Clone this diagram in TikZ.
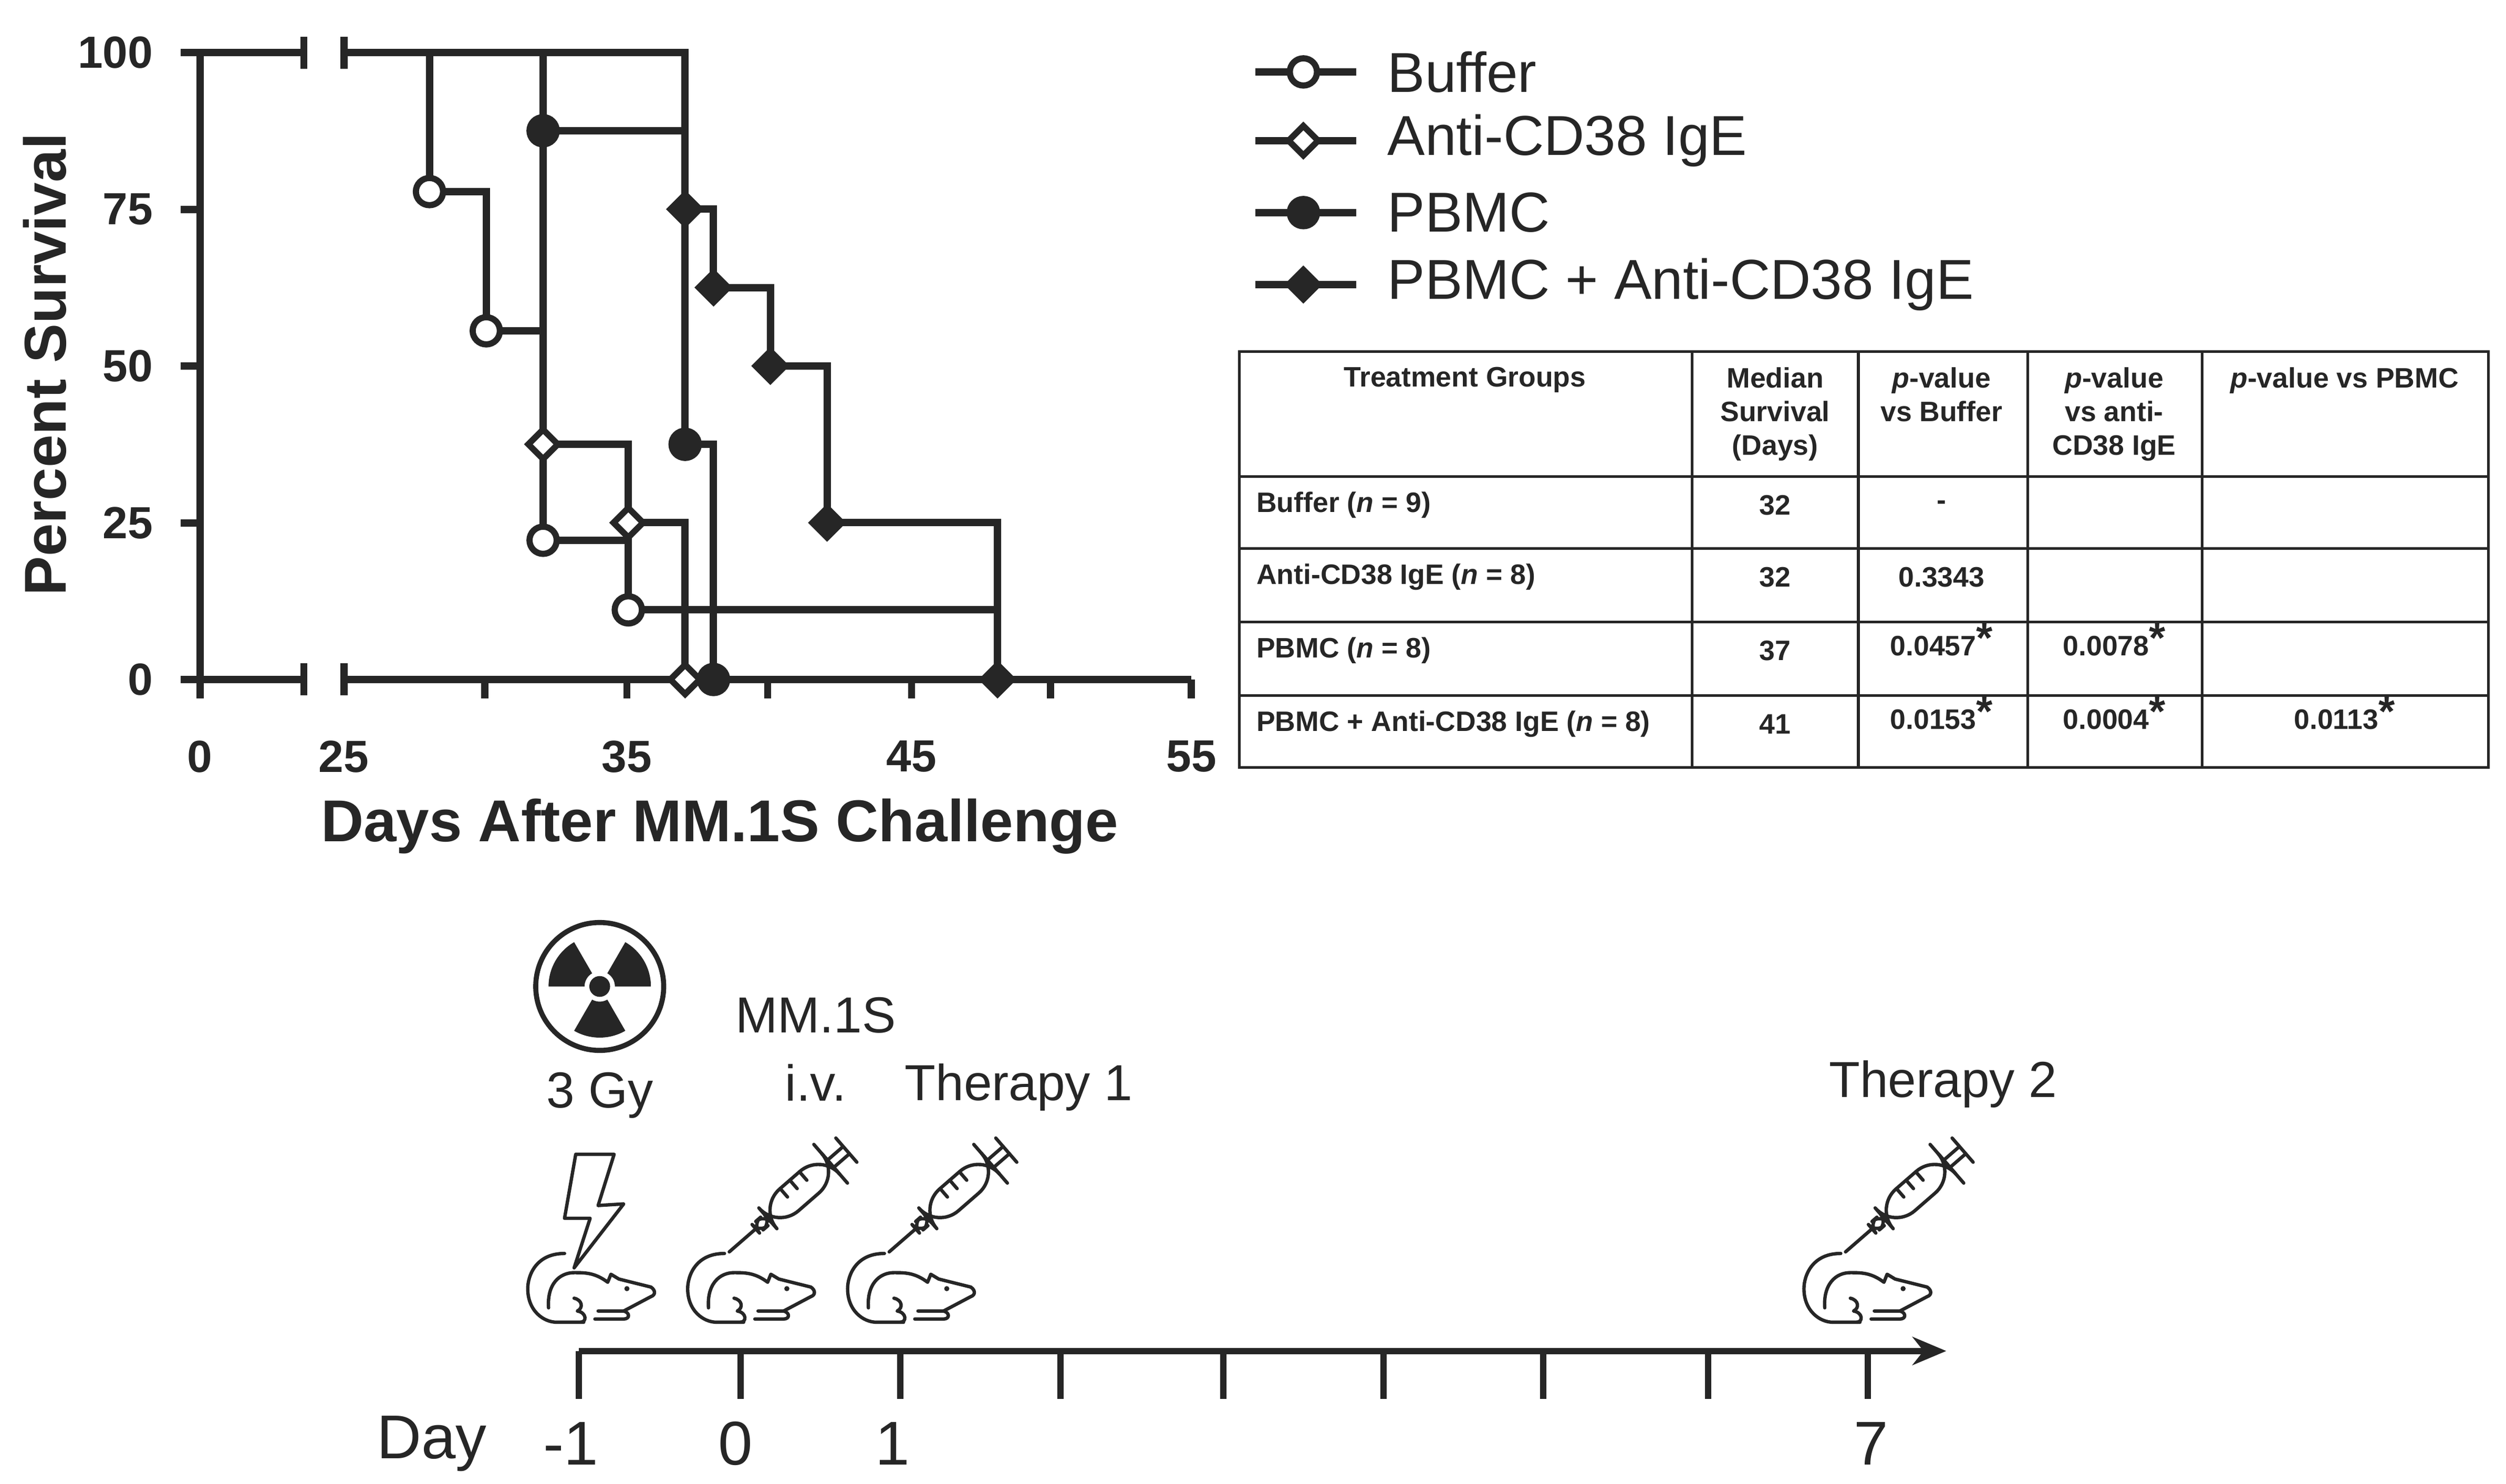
\documentclass[tikz,border=0pt]{standalone}
\usepackage{fontspec}
\setmainfont{Liberation Sans}
\usepackage{tikz}
\usetikzlibrary{shapes.geometric,arrows.meta,positioning}
\colorlet{ink}{black!85}

\tikzset{
  curve/.style={draw=ink, line width=1.3pt},
  ocirc/.style={circle, draw=ink, line width=1.1pt, fill=white, minimum size=0.17cm, inner sep=0pt},
  fcirc/.style={circle, draw=ink, line width=1.1pt, fill=ink, minimum size=0.17cm, inner sep=0pt},
  odiam/.style={diamond, draw=ink, line width=1.1pt, fill=white, minimum size=0.2cm, inner sep=0pt},
  fdiam/.style={diamond, draw=ink, line width=1.1pt, fill=ink, minimum size=0.2cm, inner sep=0pt},
  tick/.style={font=\bfseries\fontsize{8}{9}\selectfont, text=ink},
  tab/.style={font=\bfseries\fontsize{5}{6}\selectfont, text=ink, align=center, inner sep=0pt},
  leg/.style={font=\fontsize{10}{12}\selectfont, text=ink, anchor=west, inner sep=0pt},
  lab/.style={font=\fontsize{9}{11}\selectfont, text=ink, align=center, inner sep=0pt},
  day/.style={font=\fontsize{11}{13}\selectfont, text=ink, inner sep=0pt},
  icon/.style={draw=ink, line width=0.6pt, line cap=round, line join=round},
  mouse/.pic={
    \draw[icon] (23,44) .. controls (5,44) and (0,30) .. (0,22) .. controls (0,8) and (10,1) .. (18,1) -- (35,1);
    \draw[icon] (13,10) .. controls (12,25) and (20,32) .. (29,32) .. controls (36,32) and (42,32) .. (50,26)
      -- (52,31) -- (57,28) -- (77,23) .. controls (80,21) and (80,18) .. (77,17) -- (60,8) -- (44,8);
    \draw[icon] (42,3) -- (60,3) .. controls (64,3) and (64,7) .. (60,8);
    \draw[icon] (29,16) .. controls (34,15) and (35,10) .. (31,8) .. controls (37,7) and (37,1) .. (33,1);
    \fill[ink] (62,22) circle (1.6);
  },
  syringe/.pic={
    \begin{scope}[rotate=41]
    \draw[icon] (0,0) -- (22,0);
    \draw[icon, rounded corners=2] (22,-3.5) rectangle (32,3.5);
    \draw[icon, rounded corners=5] (32,-9) rectangle (84,9);
    \foreach \t in {50,58,66} \draw[icon] (\t,9) -- (\t,2);
    \draw[icon] (84,-16) -- (84,16);
    \draw[icon] (84,-3) -- (97,-3) (84,3) -- (97,3);
    \draw[icon] (97,-10) -- (97,10);
    \end{scope}
  }
}

\begin{document}
\begin{tikzpicture}[x=0.01cm, y=0.01cm]
\useasboundingbox (0,0) rectangle (1567,928);

% survival plot axes
\draw[curve] (125,503) -- (190,503) (215,503) -- (745,503);
\draw[curve] (125,503) -- (125,895);
\foreach \x in {190,215} \draw[curve] (\x,493) -- (\x,513);
\foreach \x in {125,303,392,480,570,657,745} \draw[curve] (\x,503) -- (\x,491);
\foreach \y/\p in {503/0,601/25,699/50,797/75,895/100} {
  \draw[curve] (113,\y) -- (125,\y);
  \node[tick, anchor=east] (yt\p) at (108,\y) {\p};
}
\foreach \x/\d in {125/0,215/25,392/35,570/45,745/55}
  \node[tick, anchor=north] (xt\d) at (\x,477) {\d};
\node[font=\bfseries\fontsize{10.5}{12}\selectfont, text=ink] (xlab) at (450,411) {Days After MM.1S Challenge};
\node[font=\bfseries\fontsize{10.5}{12}\selectfont, text=ink, rotate=90] (ylab) at (28,700) {Percent Survival};

% 100% start with break
\draw[curve] (125,895) -- (190,895);
\foreach \x in {190,215} \draw[curve] (\x,885) -- (\x,905);

\begin{scope}[shift={(-228.75,503)}, x=0.1775cm, y=0.0392cm]
  \draw[curve] (25,100) -- (28,100) -- (28,77.8) -- (30,77.8) -- (30,55.6) -- (32,55.6) -- (32,22.2) -- (35,22.2) -- (35,11.1) -- (48,11.1) -- (48,0);
  \draw[curve] (25,100) -- (32,100) -- (32,37.5) -- (35,37.5) -- (35,25) -- (37,25) -- (37,0);
  \draw[curve] (25,100) -- (32,100) -- (32,87.5) -- (37,87.5) -- (37,37.5) -- (38,37.5) -- (38,0);
  \draw[curve] (25,100) -- (37,100) -- (37,75) -- (38,75) -- (38,62.5) -- (40,62.5) -- (40,50) -- (42,50) -- (42,25) -- (48,25) -- (48,0);
  \foreach \d/\p [count=\i] in {28/77.8,30/55.6,32/22.2,35/11.1} \node[ocirc] (b\i) at (\d,\p) {};
  \foreach \d/\p [count=\i] in {32/37.5,35/25,37/0} \node[odiam] (e\i) at (\d,\p) {};
  \foreach \d/\p [count=\i] in {32/87.5,37/37.5,38/0} \node[fcirc] (m\i) at (\d,\p) {};
  \foreach \d/\p [count=\i] in {37/75,38/62.5,40/50,42/25,48/0} \node[fdiam] (c\i) at (\d,\p) {};
\end{scope}

% legend
\foreach \y/\s/\t [count=\i] in {883/ocirc/Buffer,840/odiam/Anti-CD38 IgE,795/fcirc/PBMC,750/fdiam/PBMC + Anti-CD38 IgE} {
  \draw[curve] (785,\y) -- (848,\y);
  \node[\s] (lm\i) at (815,\y) {};
  \node[leg] (lt\i) at (867,\y) {\t};
}

% table
\draw[ink, line width=0.5pt] (775,448) rectangle (1556,708);
\foreach \y in {630,585,539,493} \draw[ink, line width=0.5pt] (775,\y) -- (1556,\y);
\foreach \x in {1058,1162,1268,1377} \draw[ink, line width=0.5pt] (\x,448) -- (\x,708);
\node[tab, anchor=north] (h1) at (916,699) {Treatment Groups};
\node[tab, anchor=north] (h2) at (1110,699) {Median\\Survival\\(Days)};
\node[tab, anchor=north] (h3) at (1214,699) {\textit{p}-value\\vs Buffer};
\node[tab, anchor=north] (h4) at (1322,699) {\textit{p}-value\\vs anti-\\CD38 IgE};
\node[tab, anchor=north] (h5) at (1466,699) {\textit{p}-value vs PBMC};
\newcommand{\sig}{\raisebox{0.2ex}{\fontsize{7.5}{7.5}\selectfont *}}
\foreach \y/\g/\m [count=\i] in {612/Buffer (\textit{n} = 9)/32,567/Anti-CD38 IgE (\textit{n} = 8)/32,521/PBMC (\textit{n} = 8)/37,475/PBMC + Anti-CD38 IgE (\textit{n} = 8)/41} {
  \node[tab, anchor=west] (g\i) at (785,\y) {\g};
  \node[tab] (md\i) at (1110,\y) {\m};
}
\node[tab] (pb1) at (1214,612) {-};
\node[tab] (pb2) at (1214,567) {0.3343};
\node[tab, anchor=base] (pb3) at (1214,518) {0.0457\sig};
\node[tab, anchor=base] (pb4) at (1214,472) {0.0153\sig};
\node[tab, anchor=base] (pe3) at (1322,518) {0.0078\sig};
\node[tab, anchor=base] (pe4) at (1322,472) {0.0004\sig};
\node[tab, anchor=base] (pm4) at (1466,472) {0.0113\sig};

% timeline
\draw[ink, line width=1.1pt, -{Stealth[length=6pt,width=5pt]}] (362,83) -- (1217,83);
\foreach \x in {362,463,563,663,765,865,965,1068,1168} \draw[ink, line width=1.1pt] (\x,83) -- (\x,53);
\node[day] (dlab) at (270,25) {Day};
\foreach \x/\d [count=\i] in {357/-1,460/0,558/1,1170/7} \node[day] (dd\i) at (\x,25) {\d};

% radiation symbol
\draw[ink, line width=0.9pt] (375,311) circle (40);
\fill[ink] (375,311) circle (6.5);
\foreach \a in {30,150,270} \fill[ink] ([shift={(\a-30:9.5)}]375,311) arc (\a-30:\a+30:9.5) -- ([shift={(\a+30:32)}]375,311) arc (\a+30:\a-30:32) -- cycle;
\node[lab] (gy) at (375,243) {3 Gy};
\node[lab] (mm) at (510,293) {MM.1S};
\node[lab] (iv) at (510,251) {i.v.};
\node[lab] (th1) at (637,248) {Therapy 1};
\node[lab] (th2) at (1215,250) {Therapy 2};

% lightning, syringes, mice
\draw[icon] (360,206) -- (384,206) -- (374,174) -- (390,175) -- (359,135) -- (369,166) -- (353,166) -- cycle;
\foreach \x in {330,430,530,1128} \pic at (\x,100) {mouse};
\foreach \x in {456,556,1154} \pic at (\x,145) {syringe};
\end{tikzpicture}
\end{document}
